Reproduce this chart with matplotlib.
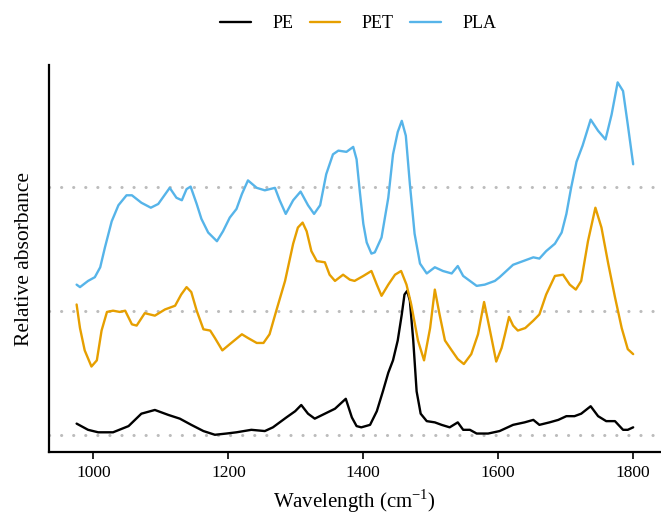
import matplotlib
matplotlib.use("Agg")
import matplotlib.pyplot as plt

plt.rcParams["font.family"] = ["Liberation Serif", "DejaVu Serif"]
plt.rcParams["mathtext.fontset"] = "custom"
plt.rcParams["mathtext.rm"] = "Liberation Serif"

# FTIR spectra, each stored relative to its own baseline (offset below)
pe_wn = [975, 992, 1007, 1029, 1052, 1071, 1091, 1111, 1128, 1145, 1163, 1180,
         1197, 1212, 1234, 1254, 1266, 1286, 1299, 1308, 1318, 1328, 1343, 1358,
         1368, 1374, 1383, 1390, 1397, 1410, 1420, 1429, 1437, 1444, 1451, 1457,
         1461, 1465, 1469, 1474, 1479, 1485, 1494, 1506, 1516, 1528, 1540, 1548,
         1558, 1568, 1585, 1602, 1622, 1639, 1652, 1661, 1676, 1689, 1701, 1713,
         1723, 1737, 1748, 1760, 1773, 1785, 1792, 1800]
pe_abs = [0.09, 0.04, 0.02, 0.02, 0.07, 0.17, 0.20, 0.16, 0.13, 0.08, 0.03, 0.00,
          0.01, 0.02, 0.04, 0.03, 0.06, 0.14, 0.19, 0.24, 0.17, 0.13, 0.17, 0.21,
          0.26, 0.29, 0.14, 0.07, 0.06, 0.08, 0.19, 0.35, 0.50, 0.60, 0.76, 0.97,
          1.13, 1.16, 1.08, 0.76, 0.35, 0.17, 0.11, 0.10, 0.08, 0.06, 0.10, 0.04,
          0.04, 0.01, 0.01, 0.03, 0.08, 0.10, 0.12, 0.08, 0.10, 0.12, 0.15, 0.15,
          0.17, 0.23, 0.15, 0.11, 0.11, 0.04, 0.04, 0.06]

pet_wn = [975, 980, 987, 997, 1005, 1012, 1020, 1029, 1039, 1047, 1057, 1064,
          1076, 1091, 1106, 1121, 1130, 1138, 1145, 1153, 1163, 1173, 1180, 1191,
          1202, 1220, 1229, 1242, 1252, 1261, 1271, 1284, 1296, 1303, 1310, 1316,
          1323, 1331, 1343, 1350, 1358, 1370, 1380, 1387, 1400, 1412, 1420, 1427,
          1437, 1447, 1456, 1464, 1471, 1481, 1490, 1499, 1506, 1513, 1521, 1531,
          1540, 1549, 1560, 1570, 1579, 1587, 1597, 1605, 1610, 1616, 1622, 1629,
          1640, 1652, 1661, 1671, 1684, 1696, 1706, 1715, 1723, 1733, 1744, 1753,
          1763, 1773, 1783, 1792, 1800]
pet_abs = [0.05, -0.14, -0.32, -0.45, -0.40, -0.16, -0.01, 0.00, -0.01, 0.00, -0.11, -0.12,
           -0.02, -0.04, 0.01, 0.04, 0.13, 0.19, 0.15, 0.00, -0.15, -0.16, -0.22, -0.32,
           -0.27, -0.19, -0.22, -0.26, -0.26, -0.19, 0.00, 0.24, 0.54, 0.67, 0.71, 0.64,
           0.48, 0.40, 0.39, 0.29, 0.24, 0.29, 0.25, 0.24, 0.28, 0.32, 0.21, 0.12,
           0.21, 0.29, 0.32, 0.21, 0.05, -0.24, -0.40, -0.14, 0.17, -0.03, -0.24, -0.32,
           -0.39, -0.43, -0.35, -0.19, 0.07, -0.14, -0.41, -0.30, -0.19, -0.05, -0.12, -0.16,
           -0.14, -0.08, -0.03, 0.13, 0.28, 0.29, 0.21, 0.17, 0.24, 0.56, 0.83, 0.67,
           0.38, 0.11, -0.14, -0.31, -0.35]

pla_wn = [975, 980, 992, 1002, 1010, 1017, 1027, 1037, 1049, 1057, 1071, 1085,
          1096, 1113, 1123, 1131, 1138, 1144, 1153, 1160, 1170, 1183, 1192, 1202,
          1212, 1220, 1229, 1242, 1254, 1269, 1276, 1285, 1296, 1307, 1318, 1327,
          1336, 1345, 1355, 1363, 1375, 1385, 1390, 1395, 1400, 1405, 1412, 1417,
          1427, 1437, 1444, 1451, 1457, 1463, 1469, 1476, 1484, 1494, 1506, 1518,
          1531, 1540, 1548, 1558, 1568, 1580, 1595, 1602, 1612, 1622, 1637, 1652,
          1661, 1671, 1684, 1694, 1701, 1708, 1716, 1725, 1737, 1748, 1759, 1768,
          1777, 1785, 1792, 1800]
pla_abs = [-0.79, -0.81, -0.76, -0.73, -0.65, -0.49, -0.28, -0.15, -0.07, -0.07, -0.13, -0.17,
           -0.14, -0.01, -0.09, -0.11, -0.02, 0.00, -0.14, -0.26, -0.37, -0.44, -0.36, -0.25,
           -0.18, -0.06, 0.05, -0.01, -0.03, -0.01, -0.11, -0.22, -0.11, -0.04, -0.15, -0.22,
           -0.15, 0.10, 0.26, 0.29, 0.28, 0.32, 0.22, -0.05, -0.30, -0.45, -0.54, -0.53,
           -0.41, -0.09, 0.26, 0.44, 0.53, 0.41, 0.02, -0.38, -0.62, -0.70, -0.65, -0.68,
           -0.70, -0.64, -0.72, -0.76, -0.80, -0.79, -0.76, -0.73, -0.68, -0.63, -0.60, -0.57,
           -0.58, -0.52, -0.46, -0.37, -0.22, -0.01, 0.20, 0.33, 0.54, 0.45, 0.38, 0.58,
           0.84, 0.77, 0.50, 0.18]

labels = ["PE", "PET", "PLA"]
offsets = [0, 1, 2]
colors = ["#000000", "#E69F00", "#56B4E9"]
xticks = [1000, 1200, 1400, 1600, 1800]

fig = plt.figure(figsize=(6.61, 5.2), dpi=100)
ax = fig.add_axes([0.0738, 0.13, 0.9262, 0.745])

# dotted baseline for each offset spectrum
for off in offsets:
    ax.axhline(off, color="#bcbcbc", lw=2.2, ls=(0, (0.05, 3.9)),
               dash_capstyle="round", zorder=1)

spectra = [(pe_wn, pe_abs), (pet_wn, pet_abs), (pla_wn, pla_abs)]
for (wn, ab), off, lab, col in zip(spectra, offsets, labels, colors):
    ax.plot(wn, [a + off for a in ab], color=col, lw=1.7, label=lab,
            solid_joinstyle="round", solid_capstyle="round", zorder=3)

ax.set_xlim(933.75, 1841.25)
ax.set_ylim(-0.142, 2.98)
ax.set_xticks(xticks)
ax.set_yticks([])
ax.tick_params(axis="x", length=5, width=1.2, labelsize=12.5, pad=4)
for side in ["top", "right"]:
    ax.spines[side].set_visible(False)
for side in ["left", "bottom"]:
    ax.spines[side].set_linewidth(1.6)

ax.set_xlabel("Wavelength (cm$^{-1}$)", fontsize=15, labelpad=5)
ax.set_ylabel("Relative absorbance", fontsize=15.5, labelpad=11)

fig.legend(loc="center", bbox_to_anchor=(0.542, 0.955), ncol=3, frameon=False,
           fontsize=13, handlelength=1.7, handletextpad=1.2, columnspacing=0.9)

fig.savefig("out.png", dpi=100)
